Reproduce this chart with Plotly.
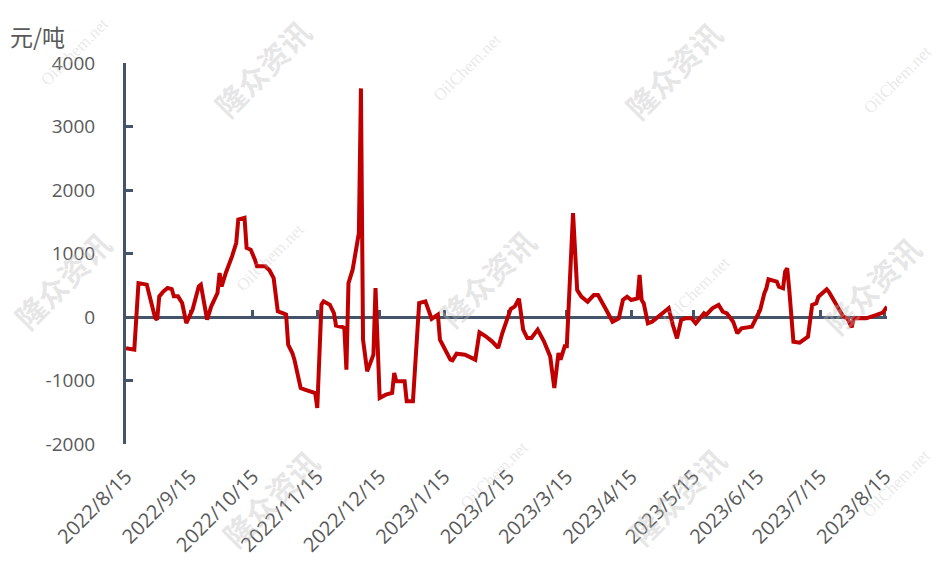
import plotly.graph_objects as go

# ---------------- data ----------------
dates = [
    "2022-08-15", "2022-08-19", "2022-08-21", "2022-08-25", "2022-08-26", "2022-08-29", "2022-08-30", "2022-08-31",
    "2022-09-02", "2022-09-04", "2022-09-06", "2022-09-07", "2022-09-09", "2022-09-11", "2022-09-13", "2022-09-16",
    "2022-09-19", "2022-09-20", "2022-09-23", "2022-09-25", "2022-09-28", "2022-09-29", "2022-09-30", "2022-10-02",
    "2022-10-05", "2022-10-07", "2022-10-08", "2022-10-11", "2022-10-12", "2022-10-14", "2022-10-16", "2022-10-17",
    "2022-10-21", "2022-10-23", "2022-10-25", "2022-10-26", "2022-10-27", "2022-10-30", "2022-10-31", "2022-11-01",
    "2022-11-03", "2022-11-04", "2022-11-07", "2022-11-09", "2022-11-12", "2022-11-14", "2022-11-15", "2022-11-17",
    "2022-11-18", "2022-11-21", "2022-11-23", "2022-11-24", "2022-11-27", "2022-11-28", "2022-11-29", "2022-11-30",
    "2022-12-02", "2022-12-05", "2022-12-06", "2022-12-07", "2022-12-09", "2022-12-11", "2022-12-12", "2022-12-13",
    "2022-12-15", "2022-12-18", "2022-12-21", "2022-12-22", "2022-12-23", "2022-12-27", "2022-12-28", "2022-12-31",
    "2023-01-03", "2023-01-06", "2023-01-09", "2023-01-12", "2023-01-13", "2023-01-18", "2023-01-19", "2023-01-21",
    "2023-01-25", "2023-01-30", "2023-02-01", "2023-02-04", "2023-02-07", "2023-02-10", "2023-02-12", "2023-02-16",
    "2023-02-18", "2023-02-20", "2023-02-22", "2023-02-24", "2023-02-26", "2023-03-01", "2023-03-04", "2023-03-07",
    "2023-03-08", "2023-03-09", "2023-03-11", "2023-03-12", "2023-03-14", "2023-03-15", "2023-03-18", "2023-03-20",
    "2023-03-22", "2023-03-25", "2023-03-28", "2023-03-30", "2023-04-03", "2023-04-06", "2023-04-09", "2023-04-11",
    "2023-04-13", "2023-04-15", "2023-04-18", "2023-04-19", "2023-04-20", "2023-04-21", "2023-04-23", "2023-04-25",
    "2023-04-27", "2023-05-03", "2023-05-05", "2023-05-07", "2023-05-09", "2023-05-11", "2023-05-14", "2023-05-16",
    "2023-05-20", "2023-05-21", "2023-05-24", "2023-05-27", "2023-05-29", "2023-05-31", "2023-06-03", "2023-06-05",
    "2023-06-07", "2023-06-12", "2023-06-14", "2023-06-16", "2023-06-18", "2023-06-19", "2023-06-20", "2023-06-24",
    "2023-06-25", "2023-06-27", "2023-06-28", "2023-06-29", "2023-06-30", "2023-07-02", "2023-07-05", "2023-07-08",
    "2023-07-09", "2023-07-11", "2023-07-13", "2023-07-14", "2023-07-18", "2023-07-19", "2023-07-22", "2023-07-26",
    "2023-07-28", "2023-07-30", "2023-07-31", "2023-08-06", "2023-08-11", "2023-08-14", "2023-08-16",
]

values = [
    -490, -515, 535, 510, 378, -15, -40, 325,
    404, 457, 440, 325, 325, 220, -95, 115,
    483, 509, -40, 168, 378, 693, 483, 693,
    955, 1165, 1533, 1560, 1087, 1060, 903, 798,
    798, 735, 614, 378, 89, 52, 37, -436,
    -567, -672, -1118, -1144, -1170, -1197, -1433, 194,
    247, 194, 63, -136, -157, -173, -830, 535,
    745, 1323, 3600, -357, -856, -672, -593, 457,
    -1276, -1223, -1197, -882, -1013, -1013, -1328, -1328,
    220, 247, -31, 37, -357, -672, -682, -577,
    -593, -672, -241, -304, -383, -488, -252, 126,
    168, 289, -199, -331, -331, -199, -383, -620,
    -934, -1118, -567, -672, -462, -462, 1635, 425,
    320, 241, 346, 346, 110, -74, -21, 268,
    320, 268, 294, 662, 268, 215, -100, -74,
    -21, 137, -126, -336, -47, -21, -21, -100,
    58, 32, 137, 189, 84, 58, -74, -257,
    -179, -152, -21, 110, 373, 452, 593, 557,
    478, 452, 714, 767, 425, -389, -404, -336,
    -310, 189, 215, 320, 436, 399, 241, 5,
    -21, -163, -21, -21, 32, 68, 163,
]

tick_dates = [
    "2022-08-15", "2022-09-15", "2022-10-15", "2022-11-15", "2022-12-15", "2023-01-15", "2023-02-15",
    "2023-03-15", "2023-04-15", "2023-05-15", "2023-06-15", "2023-07-15", "2023-08-15",
]
tick_labels = [
    "2022/8/15", "2022/9/15", "2022/10/15", "2022/11/15", "2022/12/15", "2023/1/15", "2023/2/15",
    "2023/3/15", "2023/4/15", "2023/5/15", "2023/6/15", "2023/7/15", "2023/8/15",
]
y_ticks = [-2000, -1000, 0, 1000, 2000, 3000, 4000]
y_tick_labels = ["-2000", "-1000", "0", "1000", "2000", "3000", "4000"]

unit_label = "元/吨"
brand_mark = "隆众资讯"
site_mark = "OilChem.net"
# watermark centres in pixels (x, y from top-left)
brand_px = [(262, 68), (673, 70), (62, 280), (487, 278), (872, 285), (270, 498), (677, 496)]
site_px = [(75, 52), (467, 67), (898, 80), (270, 257), (696, 290), (494, 475), (896, 483)]

# ---------------- layout constants ----------------
W, H = 940, 564
ML, MR, MT, MB = 126, 53, 63, 120
PW, PH = W - ML - MR, H - MT - MB
AX = "#44546A"
TXT = "#595959"


def to_paper(px, py):
    return (px - ML) / PW, (H - MB - py) / PH


fig = go.Figure()
# invisible copy on the label axis (keeps the bottom date labels drawn)
fig.add_trace(go.Scatter(
    x=dates, y=values, mode="lines", xaxis="x", yaxis="y",
    line=dict(color="rgba(0,0,0,0)", width=0),
    hoverinfo="skip", showlegend=False,
))
# visible series on the axis that crosses at zero
fig.add_trace(go.Scatter(
    x=dates, y=values, mode="lines", xaxis="x2", yaxis="y",
    line=dict(color="#C00000", width=4),
    hoverinfo="x+y", showlegend=False,
))

x_range = ["2022-08-15", "2023-08-16"]

fig.update_layout(
    width=W, height=H,
    margin=dict(l=ML, r=MR, t=MT, b=MB, autoexpand=False),
    paper_bgcolor="white", plot_bgcolor="white",
    font=dict(family="Open Sans, Noto Sans CJK SC", color=TXT),
    xaxis=dict(
        type="date", range=x_range, automargin=False,
        tickmode="array", tickvals=tick_dates, ticktext=tick_labels,
        tickangle=-45, tickfont=dict(size=20, color=TXT),
        showgrid=False, zeroline=False, showline=False, ticks="",
        ticklabelstandoff=16,
    ),
    xaxis2=dict(
        type="date", range=x_range, overlaying="x", anchor="free", position=1 / 3,
        side="bottom", automargin=False,
        tickmode="array", tickvals=tick_dates, showticklabels=False,
        ticks="inside", ticklen=6, tickwidth=3, tickcolor=AX,
        showline=True, linecolor=AX, linewidth=3,
        showgrid=False, zeroline=False, layer="below traces",
    ),
    yaxis=dict(
        range=[-2000, 4000], tickmode="array", tickvals=y_ticks, ticktext=y_tick_labels,
        tickfont=dict(size=19, color=TXT), automargin=False,
        showgrid=False, zeroline=False,
        showline=True, linecolor=AX, linewidth=3,
        ticks="inside", ticklen=7, tickwidth=3, tickcolor=AX,
        ticklabelstandoff=24, layer="below traces",
    ),
)

annotations = []
ux, uy = to_paper(8, 36)
annotations.append(dict(
    text=unit_label, xref="paper", yref="paper", x=ux, y=uy,
    xanchor="left", yanchor="middle", showarrow=False,
    font=dict(family="Noto Sans CJK SC", size=23, color=TXT),
))
for px, py in brand_px:
    ax_, ay_ = to_paper(px, py)
    annotations.append(dict(
        text="<b>" + brand_mark + "</b>", xref="paper", yref="paper", x=ax_, y=ay_,
        xanchor="center", yanchor="middle", showarrow=False, textangle=-45,
        font=dict(family="Noto Sans CJK SC", size=30, color="rgba(190,190,190,0.38)"),
    ))
for px, py in site_px:
    ax_, ay_ = to_paper(px, py)
    annotations.append(dict(
        text=site_mark, xref="paper", yref="paper", x=ax_, y=ay_,
        xanchor="center", yanchor="middle", showarrow=False, textangle=-45,
        font=dict(family="Liberation Serif", size=17, color="rgba(200,200,200,0.4)"),
    ))
fig.update_layout(annotations=annotations)

fig.write_html(
    "out.html",
    config={"displayModeBar": False},
    post_script="document.body.style.margin='0';document.body.style.padding='0';",
)
